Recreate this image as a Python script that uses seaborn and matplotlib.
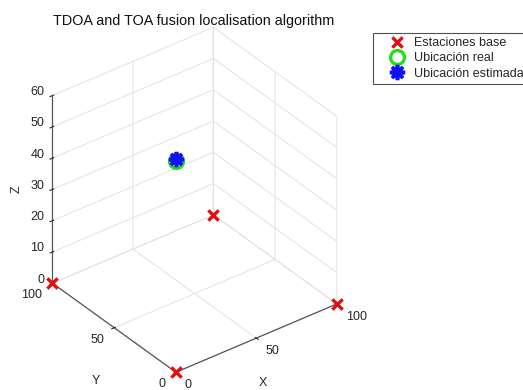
import numpy as np
import matplotlib
matplotlib.use("Agg")
import matplotlib.pyplot as plt
from mpl_toolkits.mplot3d import proj3d
import seaborn as sns

# Data
bs_x = [0, 100, 0, 100]
bs_y = [0, 0, 100, 100]
bs_z = [0, 0, 0, 0]
real_pos = [46, 60, 40.5]
est_pos = [46, 60, 41.0]
x_ticks = [0, 50, 100]
y_ticks = [0, 50, 100]
z_ticks = [0, 10, 20, 30, 40, 50, 60]
labels = ["Estaciones base", "Ubicación real", "Ubicación estimada"]
title = "TDOA and TOA fusion localisation algorithm"

sns.set_style("white")
plt.rcParams['font.family'] = ['Liberation Sans', 'DejaVu Sans']

TXT = '#262626'
W, H = 523, 390
fig = plt.figure(figsize=(W / 100, H / 100), dpi=100)
ax = fig.add_axes([-0.0124, 0.0, 0.75, 0.95], projection='3d', proj_type='ortho')
ax.view_init(elev=33.6, azim=-127.5)
ax.set_box_aspect((1, 1, 1.111), zoom=0.9556)

ax.scatter(bs_x, bs_y, bs_z, marker='x', s=55, c='#e01010', linewidths=2.4, depthshade=False, label=labels[0])
ax.plot([real_pos[0]], [real_pos[1]], [real_pos[2]], linestyle='none', marker='o', ms=10,
        mfc='none', mec='#22dd22', mew=2.4, label=labels[1])
ax.plot([est_pos[0]], [est_pos[1]], [est_pos[2]], linestyle='none', marker=(8, 2, 0), ms=11,
        mec='#1010f0', mew=2.6, label=labels[2])

ax.set_xlim(0, 100); ax.set_ylim(0, 100); ax.set_zlim(0, 60)
ax.set_xticks(x_ticks); ax.set_yticks(y_ticks); ax.set_zticks(z_ticks)
for axis in (ax.xaxis, ax.yaxis, ax.zaxis):
    axis.set_pane_color((1, 1, 1, 0))
    axis.pane.set_edgecolor('#e2e2e2')
    axis._axinfo['grid']['color'] = '#e2e2e2'
    axis._axinfo['grid']['linewidth'] = 0.7
    axis._axinfo['tick']['color'] = '#555555'
    axis.line.set_color('#555555')
    axis.line.set_linewidth(0.9)
    axis.set_tick_params(labelleft=False, labelbottom=False, labelright=False, labeltop=False)
    axis.label.set_visible(False)
    for t in axis.get_ticklabels():
        t.set_visible(False)

fig.canvas.draw()
M = ax.get_proj()

def place(x, y, z, s, dx, dy, **kw):
    px, py, _ = proj3d.proj_transform(x, y, z, M)
    X, Y = ax.transData.transform((px, py))
    fig.text((X + dx) / W, (Y + dy) / H, s, fontsize=9, color=TXT, **kw)

for v in x_ticks:
    place(v, 0, 0, str(v), 9, -13, ha='left', va='center')
for v in y_ticks:
    place(0, v, 0, str(v), -10, -12, ha='right', va='center')
for v in z_ticks:
    place(0, 100, v, str(v), -8, 3.5, ha='right', va='center')
place(50, 0, 0, 'X', 7, -45, ha='center', va='center')
place(0, 50, 0, 'Y', -18, -53, ha='center', va='center')
place(0, 100, 30, 'Z', -36, 0, ha='center', va='center', rotation=90)

fig.text(194 / W, 1 - 21 / H, title, ha='center', va='center', fontsize=10.4, color='#111111')

leg = fig.legend(loc='upper left', bbox_to_anchor=(373 / W, 1 - 33 / H), borderaxespad=0,
                 fontsize=9, frameon=True, fancybox=False, edgecolor='#262626',
                 borderpad=0.3, labelspacing=0.28, handlelength=3.24, handletextpad=-0.25)
leg.get_frame().set_linewidth(0.8)
for t in leg.get_texts():
    t.set_color(TXT)
fig.savefig('out.png', dpi=100)
